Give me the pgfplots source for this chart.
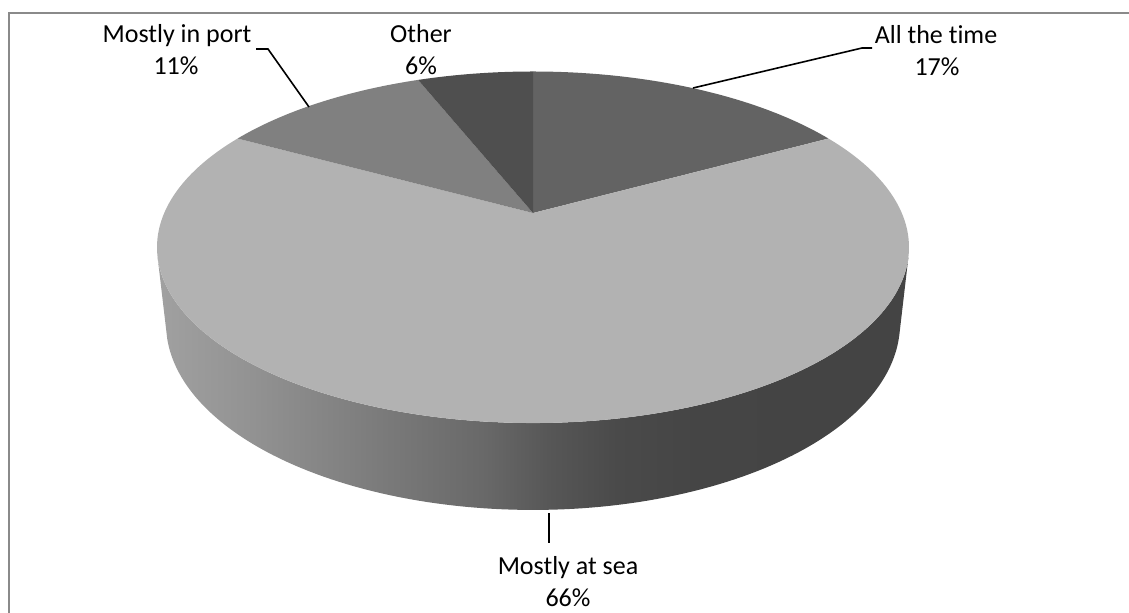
\documentclass[border=0pt]{standalone}
\usepackage{fontspec}
\setmainfont{Carlito}[Ligatures=NoCommon]
\usepackage{pgfplots}
\usepackage{pgfplotstable}
\pgfplotsset{compat=1.18}

% Share of answers, in clockwise order from twelve o'clock
\pgfplotstableread{
share
17
66
11
6
}\sharetable

\definecolor{cAll}{HTML}{636363}
\definecolor{cSea}{HTML}{B2B2B2}
\definecolor{cPort}{HTML}{808080}
\definecolor{cOther}{HTML}{4F4F4F}
\definecolor{frame}{HTML}{8A8A8A}

% light-to-dark shading of the visible rim
\pgfdeclarehorizontalshading{sideshade}{100bp}{
 rgb(0bp)=(0.63,0.63,0.63);
 rgb(25bp)=(0.63,0.63,0.63);
 rgb(31.1bp)=(0.575,0.575,0.575);
 rgb(40bp)=(0.48,0.48,0.48);
 rgb(46.7bp)=(0.41,0.41,0.41);
 rgb(51.1bp)=(0.34,0.34,0.34);
 rgb(55.6bp)=(0.29,0.29,0.29);
 rgb(61.1bp)=(0.27,0.27,0.27);
 rgb(75bp)=(0.265,0.265,0.265);
 rgb(100bp)=(0.265,0.265,0.265)}

\tikzset{lbl/.style={anchor=base, inner sep=0pt, text=black,
  font=\fontsize{13}{16}\selectfont}}

\begin{document}
\begin{tikzpicture}
\pgfplotstablegetelem{0}{share}\of\sharetable \edef\vA{\pgfplotsretval}
\pgfplotstablegetelem{1}{share}\of\sharetable \edef\vB{\pgfplotsretval}
\pgfplotstablegetelem{2}{share}\of\sharetable \edef\vC{\pgfplotsretval}
\pgfplotstablegetelem{3}{share}\of\sharetable \edef\vD{\pgfplotsretval}
\pgfmathsetmacro\aA{3.6*\vA}
\pgfmathsetmacro\aB{\aA+3.6*\vB}
\pgfmathsetmacro\aC{\aB+3.6*\vC}
\pgfmathsetmacro\aD{\aC+3.6*\vD}
\path[use as bounding box] (0,0) rectangle (564.5pt,306pt);
\clip (0,0) rectangle (564.5pt,306pt);
\begin{axis}[
  at={(0,0)}, anchor=south west,
  width=564.5pt, height=306pt, scale only axis,
  xmin=0, xmax=1129, ymin=0, ymax=612, y dir=reverse,
  hide axis,
  declare function={
    % perspective view of a tilted disc; \p = angle clockwise from the back,
    % \s = 0 for the top face, 1 for the bottom rim
    den(\p,\s)=1+0.1949*cos(\p)+0.02361*\s;
    px(\p,\s)=533+368.8*sin(\p)/den(\p,\s);
    py(\p,\s)=213-(169.1*cos(\p)-76.97*\s)/den(\p,\s);
    sphi(\t)=(\t<=1)*(104.3+151.4*\t)+(\t>1)*(255.7-151.4*(\t-1));
    sbot(\t)=(\t>1);
  },
]
% rim
\addplot[draw=none, shade, shading=sideshade, domain=0:2, samples=241]
  ({px(sphi(x),sbot(x))},{py(sphi(x),sbot(x))}) -- cycle;
% top face slices
\addplot[fill=cAll, draw=none, domain=0:\aA, samples=60]
  ({px(x,0)},{py(x,0)}) -- (axis cs:533,213) -- cycle;
\addplot[fill=cSea, draw=none, domain=\aA:\aB, samples=160]
  ({px(x,0)},{py(x,0)}) -- (axis cs:533,213) -- cycle;
\addplot[fill=cPort, draw=none, domain=\aB:\aC, samples=40]
  ({px(x,0)},{py(x,0)}) -- (axis cs:533,213) -- cycle;
\addplot[fill=cOther, draw=none, domain=\aC:\aD, samples=30]
  ({px(x,0)},{py(x,0)}) -- (axis cs:533,213) -- cycle;

% leader lines
\draw[black, line width=0.8pt] (axis cs:256,49) -- (axis cs:268,49) -- (axis cs:309,107);
\draw[black, line width=0.8pt] (axis cs:693,88) -- (axis cs:862,48) -- (axis cs:872,48);
\draw[black, line width=1pt] (axis cs:549,513) -- (axis cs:549,543);

% data labels
\node[lbl] at (axis cs:177,42) {Mostly in port};
\node[lbl] at (axis cs:176,74) {11\%};
\node[lbl] at (axis cs:421,42) {Other};
\node[lbl] at (axis cs:421,74) {6\%};
\node[lbl] at (axis cs:936,43) {All the time};
\node[lbl] at (axis cs:937,75) {17\%};
\node[lbl] at (axis cs:568,574) {Mostly at sea};
\node[lbl] at (axis cs:568,606) {66\%};

% chart area border
\draw[frame, line width=1pt] (axis cs:9,620) -- (axis cs:9,12.5) -- (axis cs:1135,12.5);
\end{axis}
\end{tikzpicture}
\end{document}
